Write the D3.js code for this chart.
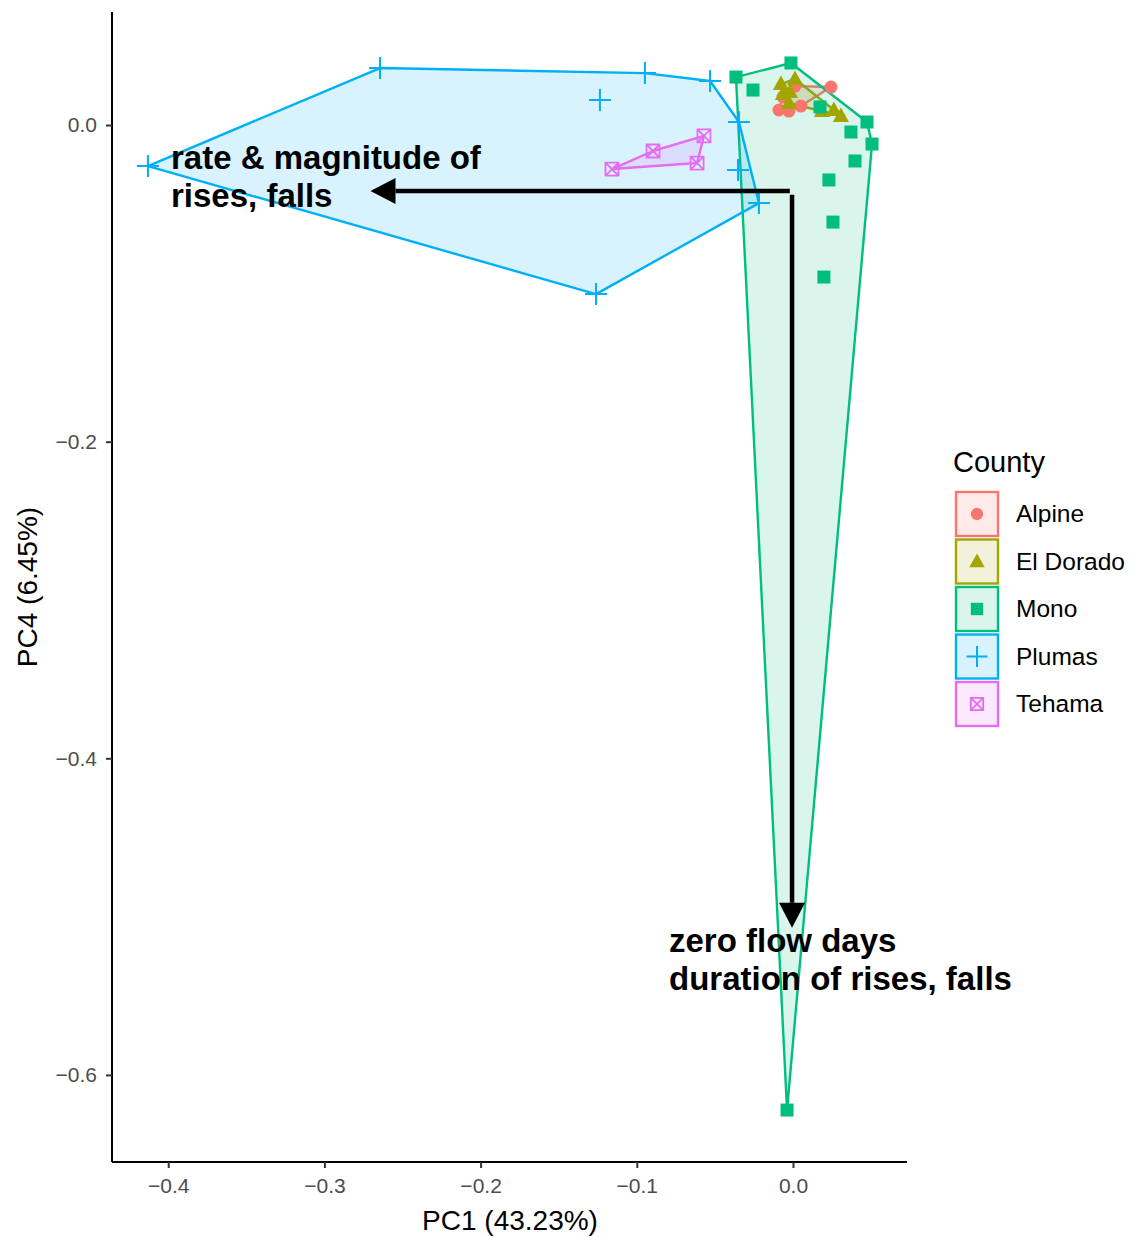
<!DOCTYPE html>
<html><head><meta charset="utf-8">
<script src="https://cdn.jsdelivr.net/npm/d3@7"></script>
<style>body{margin:0;background:#fff;} svg{display:block;font-family:"Liberation Sans",Arial,Helvetica,sans-serif;}</style>
</head><body>
<script>
// ---- data ----
const counties = ["Alpine","El Dorado","Mono","Plumas","Tehama"];
const colors = ["#F8766D","#A3A500","#00BF7D","#00B0F6","#E76BF3"];
const alpinePC1 = [-0.0090,-0.0026,0.0051,0.0243,0.0013,-0.0064];
const alpinePC4 = [0.0095,0.0088,0.0120,0.0240,0.0246,0.0177];
const eldoradoPC1 = [-0.0077,0.0013,-0.0064,-0.0026,0.0186,0.0262,0.0307,-0.0019];
const eldoradoPC4 = [0.0259,0.0291,0.0196,0.0139,0.0088,0.0095,0.0057,0.0208];
const monoPC1 = [-0.0365,-0.0013,-0.0256,0.0474,0.0506,0.0371,0.0397,0.0230,0.0256,0.0198,-0.0038,0.0173];
const monoPC4 = [0.0303,0.0392,0.0221,0.0019,-0.0120,-0.0044,-0.0227,-0.0347,-0.0613,-0.0960,-0.6222,0.0114];
const plumasPC1 = [-0.4130,-0.2644,-0.0948,-0.0531,-0.1236,-0.0346,-0.0352,-0.0218,-0.1261];
const plumasPC4 = [-0.0259,0.0360,0.0328,0.0278,0.0158,0.0019,-0.0284,-0.0493,-0.1068];
const tehamaPC1 = [-0.1159,-0.0896,-0.0570,-0.0614];
const tehamaPC4 = [-0.0278,-0.0164,-0.0069,-0.0240];
const xTicks = [-0.4,-0.3,-0.2,-0.1,0.0];
const yTicks = [0.0,-0.2,-0.4,-0.6];
const arrowLabels = [["rate & magnitude of","rises, falls"],["zero flow days","duration of rises, falls"]];
const arrowStart = [[-0.0020,-0.0417],[-0.0006,-0.0440]];
const arrowEnd = [[-0.2705,-0.0417],[-0.0006,-0.5070]];
const xTitle = "PC1 (43.23%)", yTitle = "PC4 (6.45%)", legendTitle = "County";

const groups = [
  {name:counties[0], x:alpinePC1, y:alpinePC4, shape:"circle"},
  {name:counties[1], x:eldoradoPC1, y:eldoradoPC4, shape:"triangle"},
  {name:counties[2], x:monoPC1, y:monoPC4, shape:"square"},
  {name:counties[3], x:plumasPC1, y:plumasPC4, shape:"plus"},
  {name:counties[4], x:tehamaPC1, y:tehamaPC4, shape:"boxx"}
];

const W=1138,H=1237;
const svg=d3.select("body").append("svg").attr("width",W).attr("height",H);
const x=d3.scaleLinear().domain([-0.436,0.073]).range([112,907]);
const y=d3.scaleLinear().domain([0.0714,-0.655]).range([12,1162]);

// hulls
groups.forEach((g,i)=>{
  const pts=g.x.map((v,j)=>[x(v),y(g.y[j])]);
  const hull=d3.polygonHull(pts);
  svg.append("path").attr("d","M"+hull.join("L")+"Z")
    .attr("fill",colors[i]).attr("fill-opacity",0.15)
    .attr("stroke",colors[i]).attr("stroke-width",2.4).attr("stroke-linejoin","round");
});

function drawShape(sel,shape,cx,cy,col,scale){
  scale=scale||1;
  if(shape==="circle"){
    sel.append("circle").attr("cx",cx).attr("cy",cy).attr("r",6.5*scale).attr("fill",col);
  } else if(shape==="triangle"){
    const s=8.5*scale;
    sel.append("path").attr("d",`M${cx},${cy-s}L${cx+s*0.95},${cy+s*0.7}L${cx-s*0.95},${cy+s*0.7}Z`).attr("fill",col);
  } else if(shape==="square"){
    const s=6.5*scale;
    sel.append("rect").attr("x",cx-s).attr("y",cy-s).attr("width",2*s).attr("height",2*s).attr("fill",col);
  } else if(shape==="plus"){
    const s=11*scale;
    sel.append("path").attr("d",`M${cx-s},${cy}H${cx+s}M${cx},${cy-s}V${cy+s}`).attr("stroke",col).attr("stroke-width",2).attr("fill","none");
  } else if(shape==="boxx"){
    const s=6.5*scale;
    sel.append("path").attr("d",`M${cx-s},${cy-s}H${cx+s}V${cy+s}H${cx-s}ZM${cx-s},${cy-s}L${cx+s},${cy+s}M${cx+s},${cy-s}L${cx-s},${cy+s}`)
      .attr("stroke",col).attr("stroke-width",1.8).attr("fill","none");
  }
}

// points
groups.forEach((g,i)=>{
  const gp=svg.append("g");
  g.x.forEach((v,j)=>drawShape(gp,g.shape,x(v),y(g.y[j]),colors[i]));
});

// arrows
arrowStart.forEach((s,i)=>{
  const e=arrowEnd[i];
  const x1=x(s[0]),y1=y(s[1]),x2=x(e[0]),y2=y(e[1]);
  const ang=Math.atan2(y2-y1,x2-x1);
  const L=25, Wd=13;
  const bx=x2-L*Math.cos(ang), by=y2-L*Math.sin(ang);
  svg.append("line").attr("x1",x1).attr("y1",y1).attr("x2",bx).attr("y2",by)
    .attr("stroke","#000").attr("stroke-width",4.5);
  const px=-Math.sin(ang), py=Math.cos(ang);
  svg.append("path").attr("d",`M${x2},${y2}L${bx+px*Wd},${by+py*Wd}L${bx-px*Wd},${by-py*Wd}Z`).attr("fill","#000");
});

// arrow labels
const lab1=svg.append("text").attr("x",171).attr("y",169).attr("font-size",33).attr("font-weight","bold").attr("fill","#000");
lab1.append("tspan").attr("x",171).text(arrowLabels[0][0]);
lab1.append("tspan").attr("x",171).attr("dy",38).text(arrowLabels[0][1]);
const lab2=svg.append("text").attr("x",669).attr("y",952).attr("font-size",33).attr("font-weight","bold").attr("fill","#000");
lab2.append("tspan").attr("x",669).text(arrowLabels[1][0]);
lab2.append("tspan").attr("x",669).attr("dy",38).text(arrowLabels[1][1]);

// axes
const fmt=d3.format(".1f");
const fmtTick=v=>fmt(v).replace("-","\u2212");
const xa=svg.append("g").attr("transform","translate(0,1162)")
  .call(d3.axisBottom(x).tickValues(xTicks).tickFormat(fmtTick).tickSize(6).tickPadding(10));
const ya=svg.append("g").attr("transform","translate(112,0)")
  .call(d3.axisLeft(y).tickValues(yTicks).tickFormat(fmtTick).tickSize(6).tickPadding(9));
[xa,ya].forEach(a=>{
  a.select(".domain").attr("stroke","#000").attr("stroke-width",2);
  a.selectAll(".tick line").attr("stroke","#333").attr("stroke-width",2);
  a.selectAll(".tick text").attr("fill","#4d4d4d").attr("font-size",21).attr("font-family","Liberation Sans, Arial, sans-serif");
});
xa.select(".domain").attr("d","M112,0H907");
ya.select(".domain").attr("d","M0,12V1162");

svg.append("text").attr("x",510).attr("y",1230).attr("text-anchor","middle").attr("font-size",28).text(xTitle);
svg.append("text").attr("transform","translate(37,587) rotate(-90)").attr("text-anchor","middle").attr("font-size",28).text(yTitle);

// legend
svg.append("text").attr("x",953).attr("y",472).attr("font-size",29).text(legendTitle);
groups.forEach((g,i)=>{
  const ty=491+i*47.5;
  svg.append("rect").attr("x",956).attr("y",ty+1).attr("width",42).attr("height",44)
    .attr("fill",colors[i]).attr("fill-opacity",0.15).attr("stroke",colors[i]).attr("stroke-width",2.4);
  drawShape(svg,g.shape,977,ty+23,colors[i],0.95);
  svg.append("text").attr("x",1016).attr("y",ty+31).attr("font-size",24.5).text(g.name);
});
</script>
</body></html>
